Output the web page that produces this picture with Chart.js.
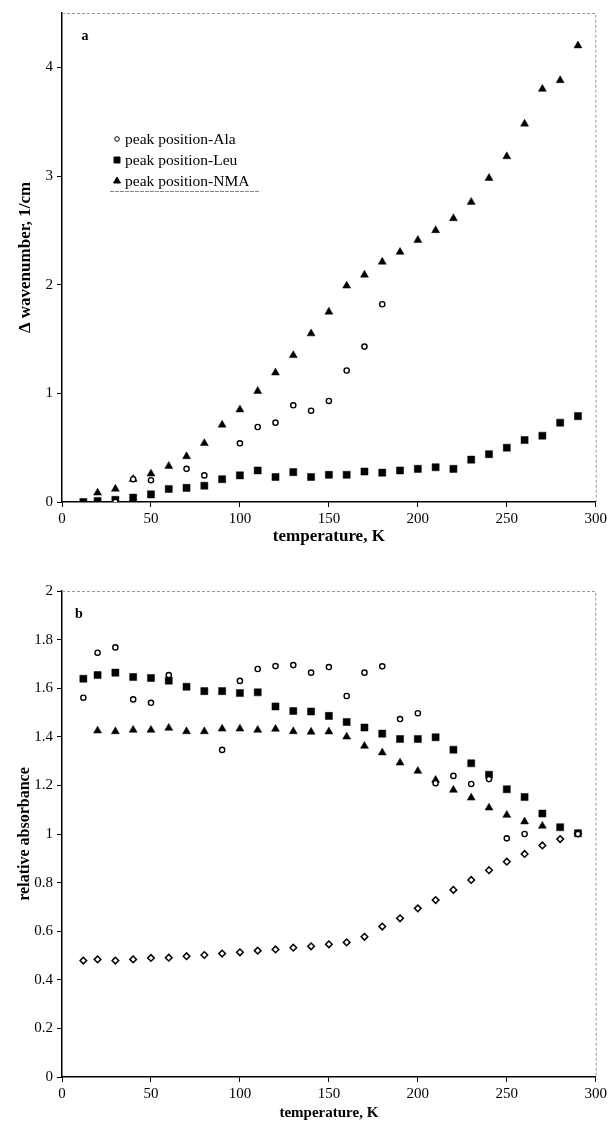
<!DOCTYPE html>
<html>
<head>
<meta charset="utf-8">
<script src="https://cdn.jsdelivr.net/npm/chart.js@4.4.1/dist/chart.umd.min.js"></script>
<style>
    body { margin: 0; background: #fff; }
    canvas { display: block; }
</style>
</head>
<body>
<canvas id="chartA" width="610" height="560"></canvas>
<canvas id="chartB" width="610" height="568"></canvas>
<script>
// temperatures, K (first point is 12 K)
var temps = [12, 20, 30, 40, 50, 60, 70, 80, 90, 100, 110, 120, 130, 140, 150,
             160, 170, 180, 190, 200, 210, 220, 230, 240, 250, 260, 270, 280, 290];

var xTicks = [0, 50, 100, 150, 200, 250, 300];

// panel a: shift of peak position, 1/cm
var shiftAla = [null, null, 0.0, 0.21, 0.20, null, 0.305, 0.245, null, 0.54, 0.69, 0.73, 0.89, 0.84, 0.93,
                1.21, 1.43, 1.82, null, null, null, null, null, null, null, null, null, null, null];
var shiftLeu = [0.0, 0.01, 0.02, 0.04, 0.07, 0.12, 0.13, 0.15, 0.21, 0.245, 0.29, 0.23, 0.275, 0.23, 0.25,
                0.25, 0.28, 0.27, 0.29, 0.305, 0.32, 0.305, 0.39, 0.44, 0.50, 0.57, 0.61, 0.73, 0.79];
var shiftNMA = [null, 0.085, 0.12, 0.21, 0.26, 0.33, 0.42, 0.54, 0.71, 0.85, 1.02, 1.19, 1.35, 1.55, 1.75,
                1.99, 2.09, 2.21, 2.30, 2.41, 2.50, 2.61, 2.76, 2.98, 3.18, 3.48, 3.80, 3.88, 4.20];
var yTicksA = [0, 1, 2, 3, 4];

// panel b: relative absorbance
var absAla = [1.561, 1.746, 1.768, 1.554, 1.540, 1.654, null, null, 1.346, 1.630, 1.679, 1.691, 1.695, 1.664, 1.687,
              1.568, 1.664, 1.690, 1.473, 1.497, 1.209, 1.239, 1.206, 1.226, 0.982, 1.000, null, null, 1.0];
var absLeu = [1.639, 1.654, 1.664, 1.646, 1.642, 1.631, 1.606, 1.588, 1.588, 1.580, 1.583, 1.525, 1.506, 1.504, 1.486,
              1.461, 1.438, 1.413, 1.391, 1.391, 1.398, 1.347, 1.291, 1.244, 1.184, 1.152, 1.084, 1.028, 1.003];
var absNMA = [null, 1.425, 1.422, 1.428, 1.428, 1.436, 1.422, 1.422, 1.433, 1.433, 1.428, 1.432, 1.422, 1.420, 1.421,
              1.400, 1.362, 1.335, 1.293, 1.259, 1.222, 1.181, 1.149, 1.108, 1.078, 1.051, 1.033, null, null];
var absRef = [0.479, 0.484, 0.479, 0.484, 0.490, 0.491, 0.497, 0.502, 0.508, 0.513, 0.520, 0.525, 0.532, 0.538, 0.546,
              0.554, 0.577, 0.619, 0.653, 0.694, 0.728, 0.770, 0.811, 0.851, 0.886, 0.918, 0.953, 0.979, 1.003];
var yTicksB = [0, 0.2, 0.4, 0.6, 0.8, 1, 1.2, 1.4, 1.6, 1.8, 2];

var serif = "'Liberation Serif', 'Times New Roman', serif";

function toPoints(values) {
    var pts = [];
    for (var i = 0; i < temps.length; i++) {
        if (values[i] !== null) pts.push({x: temps[i], y: values[i]});
    }
    return pts;
}

function circleSet(label, values) {
    return { label: label, data: toPoints(values), pointStyle: 'circle', pointRadius: 2.6,
             pointBorderWidth: 1.4, pointBorderColor: '#000', pointBackgroundColor: '#fff' };
}
function squareSet(label, values) {
    return { label: label, data: toPoints(values), pointStyle: 'rect', pointRadius: 5,
             pointBorderWidth: 0.5, pointBorderColor: '#000', pointBackgroundColor: '#000' };
}
function triangleSet(label, values) {
    return { label: label, data: toPoints(values), pointStyle: 'triangle', pointRadius: 4.6,
             pointBorderWidth: 0.5, pointBorderColor: '#000', pointBackgroundColor: '#000' };
}

// faint frame on top and right, plus the panel letter
var framePlugin = {
    id: 'frame',
    afterDraw: function(chart, args, opts) {
        var ctx = chart.ctx, a = chart.chartArea;
        ctx.save();
        ctx.strokeStyle = '#9a9a9a';
        ctx.lineWidth = 1;
        ctx.setLineDash([3, 2]);
        ctx.beginPath();
        ctx.moveTo(a.left, a.top + 0.5);
        ctx.lineTo(a.right, a.top + 0.5);
        ctx.lineTo(a.right + 0.5, a.bottom);
        ctx.stroke();
        ctx.setLineDash([]);
        ctx.fillStyle = '#000';
        ctx.font = 'bold 14px ' + serif;
        ctx.textAlign = 'center';
        ctx.textBaseline = 'middle';
        ctx.fillText(opts.letter, opts.lx, opts.ly);
        ctx.restore();
    }
};

// legend inside the plot of panel a
var innerLegend = {
    id: 'innerLegend',
    afterDraw: function(chart, args, opts) {
        if (!opts.show) return;
        var ctx = chart.ctx;
        var sizes = {circle: 2.3, rect: 4.2, triangle: 4};
        ctx.save();
        ctx.font = '15.5px ' + serif;
        ctx.textBaseline = 'middle';
        ctx.textAlign = 'left';
        chart.data.datasets.forEach(function(ds, i) {
            var y = opts.y + i * opts.step;
            ctx.fillStyle = ds.pointBackgroundColor;
            ctx.strokeStyle = '#000';
            Chart.helpers.drawPoint(ctx, { pointStyle: ds.pointStyle, radius: sizes[ds.pointStyle],
                                           rotation: 0, borderWidth: ds.pointStyle === 'circle' ? 1.2 : 0.5 },
                                    opts.x, y);
            ctx.fillStyle = '#000';
            ctx.fillText(ds.label, opts.x + 8, y + 1);
        });
        ctx.strokeStyle = '#888';
        ctx.setLineDash([4, 1]);
        ctx.beginPath();
        ctx.moveTo(110, 191.5);
        ctx.lineTo(260, 191.5);
        ctx.stroke();
        ctx.restore();
    }
};

function makeOptions(cfg) {
    return {
        responsive: false,
        animation: false,
        layout: { padding: { top: cfg.top, right: 13, bottom: 0, left: 0 } },
        plugins: {
            legend: { display: false },
            tooltip: { enabled: false },
            frame: { letter: cfg.letter, lx: cfg.lx, ly: cfg.ly },
            innerLegend: { show: cfg.legend, x: 117, y: 139, step: 21 }
        },
        scales: {
            x: {
                type: 'linear', min: 0, max: 300,
                afterFit: function(s) { s.height = cfg.xHeight; },
                afterBuildTicks: function(s) { s.ticks = xTicks.map(function(v) { return {value: v}; }); },
                border: { color: '#000', width: 1.5 },
                grid: { drawOnChartArea: false, drawTicks: true, tickLength: 5, color: '#000' },
                ticks: { color: '#000', padding: 3, font: { family: serif, size: 15 } },
                title: { display: true, text: 'temperature, K', color: '#000',
                         font: { family: serif, size: cfg.titleX, weight: 'bold' },
                         padding: { top: 0, bottom: cfg.titlePad } }
            },
            y: {
                type: 'linear', min: 0, max: cfg.ymax,
                afterFit: function(s) { s.width = 62; },
                afterBuildTicks: function(s) { s.ticks = cfg.yTicks.map(function(v) { return {value: v}; }); },
                border: { color: '#000', width: 1.5 },
                grid: { drawOnChartArea: false, drawTicks: true, tickLength: 5, color: '#000' },
                ticks: { color: '#000', padding: 4, font: { family: serif, size: 15 },
                         callback: function(v) { return String(Math.round(v * 10) / 10); } },
                title: { display: true, text: cfg.ytitle, color: '#000',
                         font: { family: serif, size: cfg.titleY, weight: 'bold' },
                         padding: { top: 15, bottom: 0 } }
            }
        }
    };
}

new Chart(document.getElementById('chartA'), {
    type: 'scatter',
    data: {
        datasets: [
            circleSet('peak position-Ala', shiftAla),
            squareSet('peak position-Leu', shiftLeu),
            triangleSet('peak position-NMA', shiftNMA)
        ]
    },
    options: makeOptions({ top: 13, xHeight: 58, ymax: 4.5, yTicks: yTicksA, letter: 'a', lx: 85, ly: 36,
                           legend: true, titleX: 17, titleY: 17, titlePad: 13,
                           ytitle: '\u0394 wavenumber, 1/cm' }),
    plugins: [framePlugin, innerLegend]
});

var refSet = { label: 'reference', data: toPoints(absRef), pointStyle: 'rectRot', pointRadius: 3.3,
               pointBorderWidth: 1.5, pointBorderColor: '#000', pointBackgroundColor: '#fff' };

new Chart(document.getElementById('chartB'), {
    type: 'scatter',
    data: {
        datasets: [
            circleSet('peak position-Ala', absAla),
            squareSet('peak position-Leu', absLeu),
            triangleSet('peak position-NMA', absNMA),
            refSet
        ]
    },
    options: makeOptions({ top: 31, xHeight: 51, ymax: 2, yTicks: yTicksB, letter: 'b', lx: 79, ly: 54,
                           legend: false, titleX: 15, titleY: 16, titlePad: 6,
                           ytitle: 'relative absorbance' }),
    plugins: [framePlugin, innerLegend]
});
</script>
</body>
</html>
